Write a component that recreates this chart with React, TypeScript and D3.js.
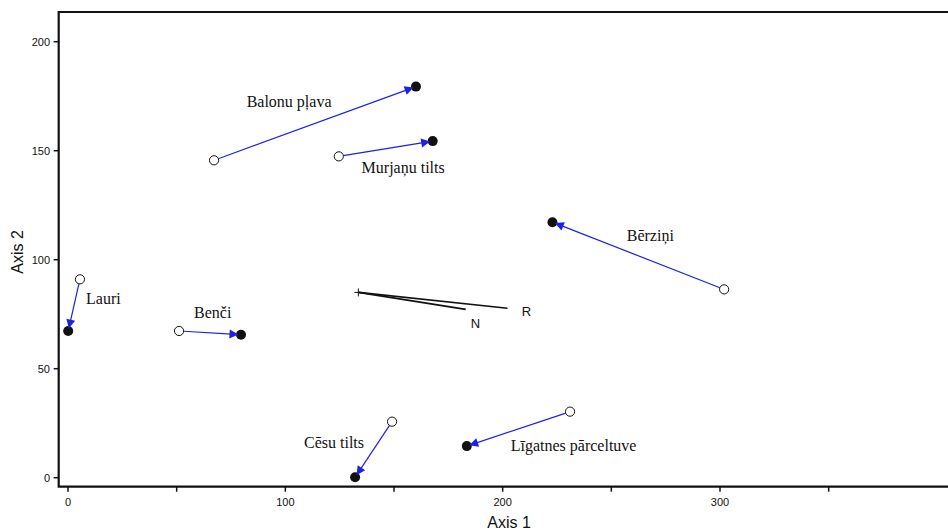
import React from "react";
import * as d3 from "d3";

const sites = ["Balonu pļava", "Murjaņu tilts", "Bērziņi", "Lauri", "Benči", "Cēsu tilts", "Līgatnes pārceltuve"];
const startX = [67.2, 124.6, 301.9, 5.5, 51.1, 149.1, 231.0];
const startY = [145.6, 147.4, 86.4, 91.0, 67.3, 25.7, 30.3];
const endX = [160.1, 167.8, 222.9, 0.1, 79.6, 132.1, 183.5];
const endY = [179.4, 154.4, 117.2, 67.3, 65.6, 0.2, 14.5];
const labelX = [82.2, 135.1, 257.1, 8.3, 58.0, 108.6, 203.7];
const labelY = [170.2, 139.8, 108.6, 79.7, 73.4, 13.8, 12.2];

const vecOrigin = [133.6, 85.0];
const vecNames = ["N", "R"];
const vecX = [183.0, 202.2];
const vecY = [77.2, 77.7];
const vecLabelX = [185.3, 208.8];
const vecLabelY = [68.5, 74.3];

const xTicks = [0, 50, 100, 150, 200, 250, 300, 350];
const xTickLabels = [0, 100, 200, 300];
const yTicks = [0, 50, 100, 150, 200];

export default function App() {
  const W = 948, H = 532;
  const x = d3.scaleLinear().domain([0, 300]).range([68, 720]);
  const y = d3.scaleLinear().domain([0, 200]).range([477.7, 41.7]);
  const left = 58.7, top = 12, bottom = 486.7, right = 960;
  const blue = "#1f1fe6";
  const sans = "Arial, 'Liberation Sans', Helvetica, sans-serif";
  const serif = "'Times New Roman', 'Liberation Serif', serif";

  return (
    <svg width={W} height={H} style={{ position: "absolute", left: 0, top: 0, background: "#fff" }}>
      <rect x={0} y={0} width={W} height={H} fill="#fff" />
      <path d={`M${right},${top}H${left}V${bottom}H${right}`} fill="none" stroke="#111" strokeWidth={2.2} />
      {xTicks.map((t) => (
        <line key={"xt" + t} x1={x(t)} x2={x(t)} y1={bottom} y2={bottom + 5} stroke="#111" strokeWidth={1.5} />
      ))}
      {xTickLabels.map((t) => (
        <text key={"xl" + t} x={x(t)} y={506} fontFamily={sans} fontSize={11} textAnchor="middle" fill="#111">{t}</text>
      ))}
      {yTicks.map((t) => (
        <g key={"yt" + t}>
          <line x1={left - 5} x2={left} y1={y(t)} y2={y(t)} stroke="#111" strokeWidth={1.5} />
          <text x={50} y={y(t)} dy="0.35em" fontFamily={sans} fontSize={11} textAnchor="end" fill="#111">{t}</text>
        </g>
      ))}
      <text x={509} y={528} fontFamily={sans} fontSize={16} textAnchor="middle" fill="#111">Axis 1</text>
      <text transform="translate(23,252) rotate(-90)" fontFamily={sans} fontSize={16} textAnchor="middle" fill="#111">Axis 2</text>

      <g>
        <line x1={x(vecOrigin[0]) - 4} x2={x(vecOrigin[0]) + 4} y1={y(vecOrigin[1])} y2={y(vecOrigin[1])} stroke="#111" strokeWidth={1} />
        <line x1={x(vecOrigin[0])} x2={x(vecOrigin[0])} y1={y(vecOrigin[1]) - 4} y2={y(vecOrigin[1]) + 4} stroke="#111" strokeWidth={1} />
        {vecNames.map((n, i) => (
          <g key={n}>
            <line x1={x(vecOrigin[0])} y1={y(vecOrigin[1])} x2={x(vecX[i])} y2={y(vecY[i])} stroke="#111" strokeWidth={1.6} />
            <text x={x(vecLabelX[i])} y={y(vecLabelY[i])} fontFamily={sans} fontSize={13} fill="#111">{n}</text>
          </g>
        ))}
      </g>

      {sites.map((s, i) => {
        const x0 = x(startX[i]), y0 = y(startY[i]);
        const x1 = x(endX[i]), y1 = y(endY[i]);
        const dx = x1 - x0, dy = y1 - y0;
        const len = Math.sqrt(dx * dx + dy * dy);
        const ux = dx / len, uy = dy / len;
        const tipX = x1 - ux * 2.5, tipY = y1 - uy * 2.5;
        const hl = 9, hw = 4.5;
        const bx = tipX - ux * hl, by = tipY - uy * hl;
        const p1 = [bx - uy * hw, by + ux * hw];
        const p2 = [bx + uy * hw, by - ux * hw];
        const sx = x0 + ux * 4.5, sy = y0 + uy * 4.5;
        return (
          <g key={s}>
            <circle cx={x0} cy={y0} r={4.6} fill="none" stroke="#111" strokeWidth={1} />
            <circle cx={x1} cy={y1} r={5} fill="#111" />
            <line x1={sx} y1={sy} x2={bx + ux * 2} y2={by + uy * 2} stroke={blue} strokeWidth={1.2} />
            <path d={`M${tipX},${tipY}L${p1[0]},${p1[1]}L${p2[0]},${p2[1]}Z`} fill={blue} />
            <text x={x(labelX[i])} y={y(labelY[i])} fontFamily={serif} fontSize={16} fill="#111">{s}</text>
          </g>
        );
      })}
    </svg>
  );
}
